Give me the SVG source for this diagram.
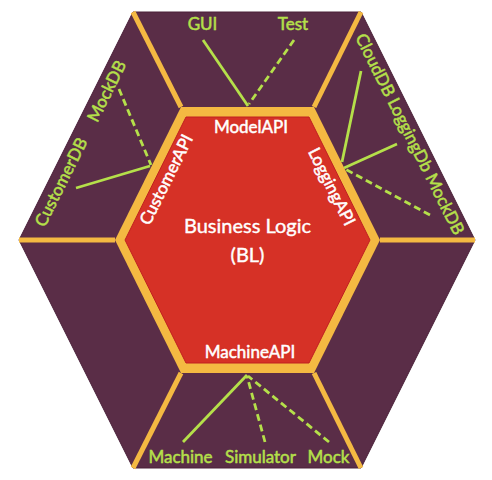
<svg xmlns="http://www.w3.org/2000/svg" width="492" height="480" viewBox="0 0 492 480">
<style>
.lbl{font-family:Lato,"Liberation Sans",sans-serif;font-size:17px;fill:#B5E04A;stroke:#B5E04A;stroke-width:0.5;text-anchor:middle}
.api{font-family:Lato,"Liberation Sans",sans-serif;font-size:17px;fill:#FFFFFF;stroke:#FFFFFF;stroke-width:0.5;text-anchor:middle}
.bl{font-family:Lato,"Liberation Sans",sans-serif;font-size:20px;fill:#FFFFFF;stroke:#FFFFFF;stroke-width:0.4;text-anchor:middle}
.spoke{stroke:#F4B942;stroke-width:5;fill:none}
.solid{stroke:#B5E04A;stroke-width:2.8;fill:none}
.dash{stroke:#B5E04A;stroke-width:2.8;fill:none;stroke-dasharray:7 4}
</style>
<rect width="492" height="480" fill="#FFFFFF"/>
<g id="outer">
<polygon points="133,12 361,12 475,240 361,468 133,468 19,240" fill="#5A2D47" stroke="#4A2038" stroke-width="1"/>
</g>
<g id="spokes">
<line class="spoke" x1="133" y1="12" x2="181" y2="107"/>
<line class="spoke" x1="361" y1="12" x2="314" y2="107"/>
<line class="spoke" x1="475" y1="240" x2="380" y2="240"/>
<line class="spoke" x1="361" y1="468" x2="314" y2="373"/>
<line class="spoke" x1="133" y1="468" x2="181" y2="373"/>
<line class="spoke" x1="19" y1="240" x2="115" y2="240"/>
</g>
<g id="bl">
<polygon points="181,107 314,107 380,240 314,373 181,373 115,240" fill="#F4B942"/>
<polygon points="186,117 309,117 370,240 309,363 186,363 125,240" fill="#D63126" stroke="#C02020" stroke-width="1"/>
<text class="bl" x="247.5" y="233">Business Logic</text>
<text class="bl" x="247.5" y="262">(BL)</text>
<text class="api" x="251" y="133">ModelAPI</text>
<text class="api" x="250" y="358">MachineAPI</text>
<text class="api" transform="translate(167,180) rotate(-63.43)" y="5">CustomerAPI</text>
<text class="api" transform="translate(331,187) rotate(63.43)" y="5">LoggingAPI</text>
</g>
<g id="connectors">
<line class="solid" x1="203" y1="40" x2="248" y2="106"/>
<line class="dash" x1="294" y1="40" x2="249" y2="104"/>
<line class="solid" x1="76" y1="188" x2="150" y2="166"/>
<line class="dash" x1="119" y1="89" x2="151" y2="165"/>
<line class="solid" x1="361" y1="71" x2="342" y2="162"/>
<line class="solid" x1="397" y1="144" x2="344" y2="168"/>
<line class="dash" x1="430" y1="215" x2="345" y2="169"/>
<line class="solid" x1="183" y1="442" x2="247" y2="375"/>
<line class="dash" x1="265" y1="442" x2="247" y2="376"/>
<line class="dash" x1="329" y1="442" x2="248" y2="376"/>
</g>
<g id="gui"><text class="lbl" x="202.5" y="30">GUI</text></g>
<g id="test"><text class="lbl" x="293" y="30">Test</text></g>
<g id="mockdb-left"><text class="lbl" transform="translate(106.5,91) rotate(-63.43)" y="6">MockDB</text></g>
<g id="customerdb"><text class="lbl" transform="translate(61,182) rotate(-63.43)" y="6">CustomerDB</text></g>
<g id="right-dbs"><text class="lbl" transform="translate(410,134) rotate(63.43)" y="6">CloudDB LoggingDb MockDB</text></g>
<g id="machine"><text class="lbl" x="180.5" y="463">Machine</text></g>
<g id="simulator"><text class="lbl" x="260.5" y="463">Simulator</text></g>
<g id="mock"><text class="lbl" x="328.5" y="463">Mock</text></g>
</svg>
